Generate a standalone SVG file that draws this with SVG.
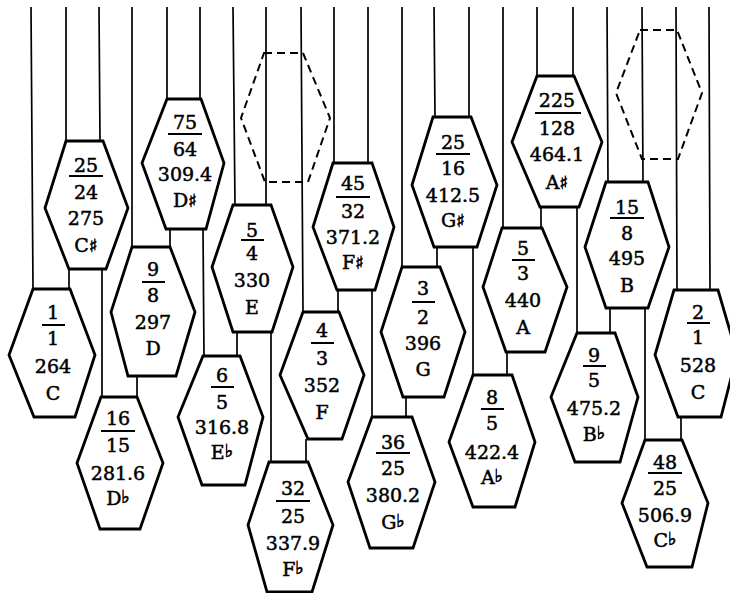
<svg xmlns="http://www.w3.org/2000/svg" width="730" height="593" viewBox="0 0 730 593">
<style>
.s{stroke:#000;stroke-width:1.7;fill:none}
.h{fill:#fff;stroke:#000;stroke-width:2.8;stroke-linejoin:miter}
.d{fill:none;stroke:#000;stroke-width:2;stroke-dasharray:8 5}
.fl{stroke:#000;stroke-width:2}
text{font-family:"DejaVu Serif","Liberation Serif",serif;font-size:19px;text-anchor:middle;fill:#000;stroke:#000;stroke-width:0.5}
.a{font-family:"DejaVu Sans",sans-serif;font-size:18px;fill:#000;stroke:#000;stroke-width:0.6}
</style>
<rect width="730" height="593" fill="#fff"/>
<g id="connectors">
<path class="s" d="M31 7L33 289M66 7L66 141M99 7L100 141M132 7L132 247M167 7L167 99M200 7L200 99M233 7L235 205M266 7L266 205M301 7L303 312M334 7L334 163M368 7L368 163M402 7L402 267M434 7L435 117M469 7L469 117M503 7L503 228M537 7L537 76M573 7L573 76M607 7L608 182M642 7L643 182M676 7L677 290M709 7L710 290"/>
<path class="s" d="M69 269L69 289M102 269L102 397M170 229L170 247M203 229L204 356M137 376L137 397M237 332L237 356M271 332L271 462M338 290L338 312M372 290L372 417M306 439L306 462M437 247L437 267M473 247L473 375M406 397L406 417M541 207L541 228M577 207L577 333M507 352L507 375M610 308L610 333M645 308L645 440M681 417L681 440"/>
</g>
<g id="empty1"><polygon class="d" points="264,53 303,53 330,118 308,182 265,182 241,118"/></g>
<g id="empty2"><polygon class="d" points="640,30 677,30 702,93 678,159 642,159 616,93"/></g>
<g id="C1">
<polygon class="h" points="33,289 70,289 95,355 75,417 34,417 9,355"/>
<text x="53" y="319">1</text><line class="fl" x1="42" y1="325" x2="65" y2="325"/><text x="53" y="345">1</text><text x="53" y="373">264</text><text x="53" y="400">C</text>
</g>
<g id="Cs">
<polygon class="h" points="66,141 103,141 128,208 106,269 69,269 45,208"/>
<text x="86" y="172">25</text><line class="fl" x1="69" y1="176" x2="103" y2="176"/><text x="86" y="199">24</text><text x="86" y="225">275</text><text x="86" y="252">C<tspan class="a">♯</tspan></text>
</g>
<g id="Db">
<polygon class="h" points="101,397 137,397 163,463 140,529 100,529 77,463"/>
<text x="118" y="425">16</text><line class="fl" x1="101" y1="431" x2="135" y2="431"/><text x="118" y="452">15</text><text x="118" y="480">281.6</text><text x="118" y="505">D<tspan class="a" dy="-2">♭</tspan></text>
</g>
<g id="D">
<polygon class="h" points="132,247 170,247 195,312 176,376 128,376 111,312"/>
<text x="153" y="276">9</text><line class="fl" x1="142" y1="282" x2="165" y2="282"/><text x="153" y="302">8</text><text x="153" y="329">297</text><text x="153" y="355">D</text>
</g>
<g id="Ds">
<polygon class="h" points="167,99 201,99 224,163 206,229 166,229 142,163"/>
<text x="185" y="129">75</text><line class="fl" x1="168" y1="134" x2="202" y2="134"/><text x="185" y="156">64</text><text x="185" y="181">309.4</text><text x="185" y="207">D<tspan class="a">♯</tspan></text>
</g>
<g id="Eb">
<polygon class="h" points="203,356 240,356 263,417 245,485 202,485 178,417"/>
<text x="222" y="382">6</text><line class="fl" x1="211" y1="387" x2="234" y2="387"/><text x="222" y="409">5</text><text x="222" y="434">316.8</text><text x="222" y="459">E<tspan class="a" dy="-2">♭</tspan></text>
</g>
<g id="E">
<polygon class="h" points="233,205 271,205 293,267 272,332 233,332 212,267"/>
<text x="252" y="237">5</text><line class="fl" x1="241" y1="240" x2="264" y2="240"/><text x="252" y="260">4</text><text x="252" y="287">330</text><text x="252" y="314">E</text>
</g>
<g id="Fb">
<polygon class="h" points="269,462 308,462 333,525 312,592 267,592 248,525"/>
<text x="293" y="495">32</text><line class="fl" x1="276" y1="501" x2="310" y2="501"/><text x="293" y="523">25</text><text x="293" y="550">337.9</text><text x="293" y="576">F<tspan class="a" dy="-2">♭</tspan></text>
</g>
<g id="F">
<polygon class="h" points="303,312 339,312 364,375 342,439 308,439 280,375"/>
<text x="322" y="337">4</text><line class="fl" x1="311" y1="343" x2="334" y2="343"/><text x="322" y="365">3</text><text x="322" y="392">352</text><text x="322" y="419">F</text>
</g>
<g id="Fs">
<polygon class="h" points="333,163 372,163 394,227 375,290 337,290 313,227"/>
<text x="353" y="190">45</text><line class="fl" x1="336" y1="197" x2="370" y2="197"/><text x="353" y="218">32</text><text x="353" y="244">371.2</text><text x="353" y="269">F<tspan class="a">♯</tspan></text>
</g>
<g id="Gb">
<polygon class="h" points="372,417 412,417 435,482 413,548 370,548 348,482"/>
<text x="393" y="449">36</text><line class="fl" x1="376" y1="453" x2="410" y2="453"/><text x="393" y="475">25</text><text x="393" y="502">380.2</text><text x="393" y="529">G<tspan class="a" dy="-2">♭</tspan></text>
</g>
<g id="G">
<polygon class="h" points="402,267 440,267 465,332 444,397 403,397 381,332"/>
<text x="423" y="295">3</text><line class="fl" x1="412" y1="302" x2="435" y2="302"/><text x="423" y="324">2</text><text x="423" y="350">396</text><text x="423" y="376">G</text>
</g>
<g id="Gs">
<polygon class="h" points="433,117 471,117 497,185 477,247 434,247 412,185"/>
<text x="453" y="149">25</text><line class="fl" x1="436" y1="154" x2="470" y2="154"/><text x="453" y="175">16</text><text x="453" y="202">412.5</text><text x="453" y="227">G<tspan class="a">♯</tspan></text>
</g>
<g id="Ab">
<polygon class="h" points="473,375 512,375 535,442 515,507 473,507 449,442"/>
<text x="492" y="404">8</text><line class="fl" x1="481" y1="409" x2="504" y2="409"/><text x="492" y="430">5</text><text x="492" y="459">422.4</text><text x="492" y="484">A<tspan class="a" dy="-2">♭</tspan></text>
</g>
<g id="A">
<polygon class="h" points="502,228 542,228 567,287 545,352 506,352 483,287"/>
<text x="523" y="255">5</text><line class="fl" x1="512" y1="260" x2="535" y2="260"/><text x="523" y="280">3</text><text x="523" y="307">440</text><text x="523" y="334">A</text>
</g>
<g id="As">
<polygon class="h" points="537,76 574,76 602,142 579,207 540,207 512,142"/>
<text x="557" y="107">225</text><line class="fl" x1="535" y1="113" x2="581" y2="113"/><text x="557" y="135">128</text><text x="557" y="161">464.1</text><text x="557" y="189">A<tspan class="a">♯</tspan></text>
</g>
<g id="Bb">
<polygon class="h" points="577,333 615,333 638,397 620,462 575,462 551,397"/>
<text x="594" y="362">9</text><line class="fl" x1="583" y1="366" x2="606" y2="366"/><text x="594" y="387">5</text><text x="594" y="415">475.2</text><text x="594" y="441">B<tspan class="a" dy="-2">♭</tspan></text>
</g>
<g id="B">
<polygon class="h" points="606,182 648,182 669,247 648,308 606,308 585,247"/>
<text x="627" y="214">15</text><line class="fl" x1="610" y1="218" x2="644" y2="218"/><text x="627" y="240">8</text><text x="627" y="265">495</text><text x="627" y="292">B</text>
</g>
<g id="C2">
<polygon class="h" points="674,290 718,290 737,355 721,417 678,417 655,355"/>
<text x="698" y="319">2</text><line class="fl" x1="687" y1="323" x2="710" y2="323"/><text x="698" y="344">1</text><text x="698" y="372">528</text><text x="698" y="399">C</text>
</g>
<g id="Cb">
<polygon class="h" points="645,440 682,440 708,503 692,567 647,567 622,503"/>
<text x="665" y="469">48</text><line class="fl" x1="648" y1="473" x2="682" y2="473"/><text x="665" y="495">25</text><text x="665" y="522">506.9</text><text x="665" y="547">C<tspan class="a" dy="-2">♭</tspan></text>
</g>
</svg>
